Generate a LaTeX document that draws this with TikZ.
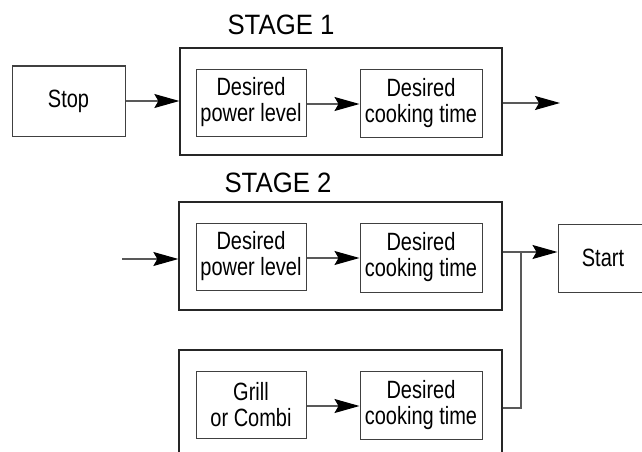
\documentclass[tikz,border=0pt]{standalone}
\usepackage{fontspec}
\setmainfont{Liberation Sans}
\newfontfamily\condfont[FakeStretch=0.80]{Liberation Sans}
\newfontfamily\stagefont[FakeStretch=0.92]{Liberation Sans}
\usetikzlibrary{arrows.meta}
\tikzset{
  outerbox/.style={draw=black!85, line width=1.3pt, inner sep=0pt},
  innerbox/.style={draw=black!75, line width=1pt, inner sep=0pt, align=center,
    font=\condfont\fontsize{25}{26}\selectfont},
  lbl/.style={font=\stagefont\fontsize{28}{30}\selectfont, inner sep=0pt},
  conn/.style={draw=black!65, line width=1.1pt},
  arr/.style={conn, -{Stealth[length=25pt,width=14pt,inset=4pt,fill=black,color=black]}}
}
\begin{document}
\begin{tikzpicture}[x=1pt,y=1pt]
\useasboundingbox (0,0) rectangle (642,-452);
\clip (0,0) rectangle (642,-452);
% Stage 1
\node[lbl] (lab1) at (281,-25) {STAGE 1};
\node[innerbox, minimum width=113pt, minimum height=70pt] (stop) at (68.5,-101) {Stop};
\node[outerbox, minimum width=322pt, minimum height=107pt] (s1) at (341,-101.5) {};
\node[innerbox, minimum width=110pt, minimum height=67pt] (p1) at (251,-102.5) {Desired\\power level};
\node[innerbox, minimum width=122pt, minimum height=68pt] (t1) at (421,-103) {Desired\\cooking time};
\coordinate (out1) at (560,-103);
\draw[arr] (stop.east) -- (stop.east -| s1.west);
\draw[arr] (p1.east |- 0,-104) -- (t1.west |- 0,-104);
\draw[arr] (out1 -| s1.east) -- (out1);
% Stage 2
\node[lbl] (lab2) at (278,-182.5) {STAGE 2};
\node[outerbox, minimum width=323pt, minimum height=108pt] (s2) at (340.5,-256) {};
\node[innerbox, minimum width=110pt, minimum height=67pt] (p2) at (251,-256.5) {Desired\\power level};
\node[innerbox, minimum width=122pt, minimum height=69pt] (t2) at (421,-257.5) {Desired\\cooking time};
\node[innerbox, minimum width=90pt, minimum height=68pt] (start) at (603,-258) {Start};
\coordinate (in2) at (122,-259);
\coordinate (j) at (521,-252);
\draw[arr] (in2) -- (in2 -| s2.west);
\draw[arr] (p2.east |- 0,-258) -- (t2.west |- 0,-258);
\draw[conn] (j -| s2.east) -- (j);
\draw[arr] (j) -- (j -| start.west);
% Stage 3
\node[outerbox, minimum width=323pt, minimum height=112pt] (s3) at (340.5,-406) {};
\node[innerbox, minimum width=110pt, minimum height=67pt] (g3) at (251,-404.5) {Grill\\or Combi};
\node[innerbox, minimum width=122pt, minimum height=68pt] (t3) at (421,-405) {Desired\\cooking time};
\coordinate (k) at (521,-408);
\draw[arr] (g3.east |- 0,-406) -- (t3.west |- 0,-406);
\draw[conn] (k -| s3.east) -- (k) -- (j);
\end{tikzpicture}
\end{document}
